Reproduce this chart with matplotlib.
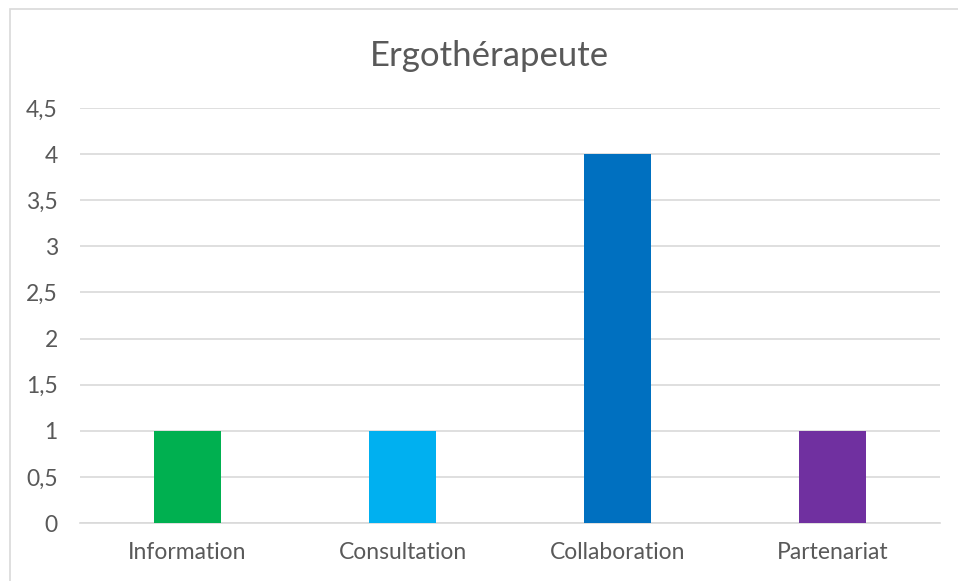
import matplotlib
matplotlib.use("Agg")
import matplotlib.pyplot as plt
from matplotlib.patches import Rectangle

categories = ["Information", "Consultation", "Collaboration", "Partenariat"]
values = [1, 1, 4, 1]
colors = ["#00B050", "#00B0F0", "#0070C0", "#7030A0"]
yticks = [0, 0.5, 1, 1.5, 2, 2.5, 3, 3.5, 4, 4.5]
ytick_labels = ["0", "0,5", "1", "1,5", "2", "2,5", "3", "3,5", "4", "4,5"]

plt.rcParams["font.family"] = ["Lato", "DejaVu Sans"]
text_color = "#595959"

W, H = 958, 581
fig = plt.figure(figsize=(W / 100, H / 100), dpi=100)
fig.patches.append(Rectangle((9.5 / W, -0.1), 1.2, 1.1 - 9.5 / H, transform=fig.transFigure,
                             fill=False, edgecolor="#D9D9D9", linewidth=1.2))

ax = fig.add_axes([80 / W, 1 - 523 / H, 860 / W, (523 - 108) / H])
x = range(len(categories))
ax.bar(x, values, width=0.316, color=colors, zorder=3)
ax.set_xlim(-0.5, len(categories) - 0.5)
ax.set_ylim(0, 4.5)
ax.set_yticks(yticks)
ax.set_yticklabels(ytick_labels)
ax.set_xticks(list(x))
ax.set_xticklabels(categories)
ax.grid(axis="y", color="#D9D9D9", linewidth=1.2, zorder=0)
for s in ["top", "right", "left"]:
    ax.spines[s].set_visible(False)
ax.spines["bottom"].set_color("#D9D9D9")
ax.spines["bottom"].set_linewidth(1.2)
ax.tick_params(axis="both", length=0, labelsize=16.5, colors=text_color)
ax.tick_params(axis="y", pad=16)
ax.tick_params(axis="x", pad=14)

fig.text(489 / W, 1 - 56 / H, "Ergothérapeute", ha="center", va="center", fontsize=25, color=text_color)

fig.savefig("out.png", dpi=100)
